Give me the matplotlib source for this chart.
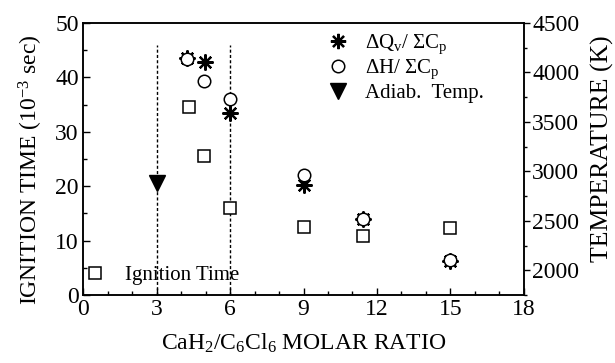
import matplotlib
matplotlib.use("Agg")
import matplotlib.pyplot as plt
from matplotlib.ticker import MultipleLocator
from matplotlib.lines import Line2D

plt.rcParams['font.family'] = ['Liberation Serif', 'DejaVu Serif']
plt.rcParams['mathtext.fontset'] = 'custom'
plt.rcParams['mathtext.rm'] = 'Liberation Serif'
plt.rcParams['mathtext.it'] = 'Liberation Serif'

# Ignition time (left axis, 10^-3 sec)
ign_x = [4.33, 4.94, 6.0, 9.0, 11.43, 15.0]
ign_y = [34.6, 25.5, 16.0, 12.5, 10.9, 12.3]

# dQv / sum Cp (right axis, K)
dq_x = [4.25, 4.98, 6.0, 9.0, 11.43, 15.0]
dq_y = [4150, 4106, 3590, 2862, 2518, 2090]

# dH / sum Cp (right axis, K)
dh_x = [4.25, 4.92, 6.0, 9.0, 11.43, 15.0]
dh_y = [4136, 3910, 3732, 2960, 2518, 2104]

# Adiabatic temperature (right axis, K)
ad_x = [3.0]
ad_y = [2880]

# Dashed reference lines
vline_x = [3.0, 6.0]
vline_top = 46

fig = plt.figure(figsize=(6.15, 3.63), dpi=100)
ax = fig.add_axes([0.135, 0.187, 0.717, 0.750])
ax2 = ax.twinx()

for xv in vline_x:
    ax.plot([xv, xv], [0, vline_top], linestyle=(0, (2.2, 1.6)), color='black', lw=1.0, zorder=1)

ax.plot(ign_x, ign_y, linestyle='none', marker='s', markersize=8, markerfacecolor='white',
        markeredgecolor='black', markeredgewidth=1.1, zorder=3)

ax2.plot(dq_x, dq_y, linestyle='none', marker=(8, 2, 0), markersize=11.5,
         markeredgecolor='black', markeredgewidth=1.6, color='black', zorder=3)
ax2.plot(dh_x, dh_y, linestyle='none', marker='o', markersize=9, markerfacecolor='white',
         markeredgecolor='black', markeredgewidth=1.1, zorder=4)
ax2.plot(ad_x, ad_y, linestyle='none', marker='v', markersize=11, color='black', zorder=4)

ax.set_xlim(0, 18)
ax.set_ylim(0, 50)
ax2.set_ylim(1750, 4500)

ax.xaxis.set_major_locator(MultipleLocator(3))
ax.xaxis.set_minor_locator(MultipleLocator(1))
ax.yaxis.set_major_locator(MultipleLocator(10))
ax.yaxis.set_minor_locator(MultipleLocator(5))
ax2.set_yticks([2000, 2500, 3000, 3500, 4000, 4500])
ax2.yaxis.set_minor_locator(MultipleLocator(250))

ax.tick_params(axis='both', which='major', direction='in', length=5, width=1, labelsize=17)
ax.tick_params(axis='both', which='minor', direction='in', length=3, width=1)
ax.tick_params(axis='x', which='major', pad=3)
ax.tick_params(axis='y', which='major', pad=3)
ax2.tick_params(axis='y', which='major', direction='out', length=4, width=1, labelsize=17, pad=2)
ax2.tick_params(axis='y', which='minor', direction='out', length=2.5, width=1)

for a in (ax, ax2):
    for s in a.spines.values():
        s.set_linewidth(1.1)

ax.set_xlabel(r'CaH$_2$/C$_6$Cl$_6$ MOLAR RATIO', fontsize=17, labelpad=8)
ax.set_ylabel(r'IGNITION TIME (10$^{-3}$ sec)', fontsize=17)
ax.yaxis.set_label_coords(-0.087, 0.462)
ax2.set_ylabel('TEMPERATURE (K)', fontsize=18.5)
ax2.yaxis.set_label_coords(1.152, 0.537)

h1 = [Line2D([], [], linestyle='none', marker=(8, 2, 0), markersize=11, color='black', markeredgewidth=1.6),
      Line2D([], [], linestyle='none', marker='o', markersize=9, markerfacecolor='white',
             markeredgecolor='black', markeredgewidth=1.1),
      Line2D([], [], linestyle='none', marker='v', markersize=11, color='black')]
l1 = [r'$\Delta$Q$_\mathrm{v}$/ $\Sigma$C$_\mathrm{p}$', r'$\Delta$H/ $\Sigma$C$_\mathrm{p}$', 'Adiab.  Temp.']
leg1 = ax2.legend(h1, l1, loc='upper left', bbox_to_anchor=(0.555, 0.965), frameon=False,
                  fontsize=15, handletextpad=0.8, labelspacing=0.1, handlelength=1.0,
                  borderpad=0, borderaxespad=0)

h2 = [Line2D([], [], linestyle='none', marker='s', markersize=8, markerfacecolor='white',
             markeredgecolor='black', markeredgewidth=1.1)]
leg2 = ax2.legend(h2, ['Ignition Time'], loc='lower left', bbox_to_anchor=(0.004, 0.037), frameon=False,
                  fontsize=15, handletextpad=0.95, handlelength=1.0, borderpad=0, borderaxespad=0)
ax2.add_artist(leg1)

fig.savefig('out.png', dpi=100)
